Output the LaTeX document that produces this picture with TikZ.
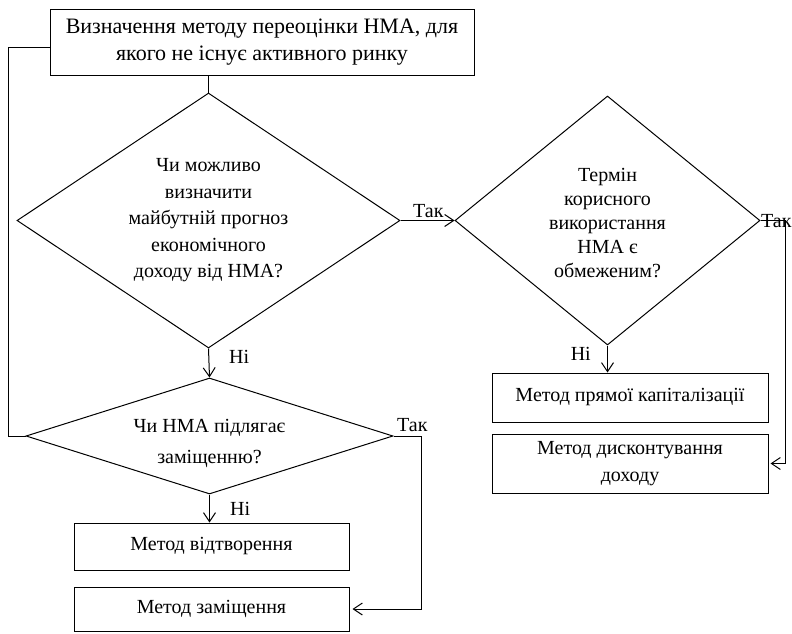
\documentclass[tikz,border=0pt]{standalone}
\usepackage{fontspec}
\setmainfont{Liberation Serif}
\usetikzlibrary{shapes.geometric,arrows.meta}
\begin{document}
\begin{tikzpicture}[x=1pt,y=-1pt,
  every node/.style={font=\fontsize{20}{26.5}\selectfont},
  box/.style={draw,line width=1pt,rectangle,inner sep=0pt,align=center},
  dia/.style={draw,line width=1pt,diamond,inner sep=0pt,align=center},
  conn/.style={line width=1pt},
  arr/.style={line width=1pt,-{Straight Barb[length=9pt,width=12pt]}},
  lbl/.style={inner sep=0pt}]
\useasboundingbox (0,0) rectangle (792,634);
\node[box,minimum width=424pt,minimum height=65pt,font=\fontsize{22}{27}\selectfont] (top) at (262,42.5)
  {Визначення методу переоцінки НМА, для\\якого не існує активного ринку};
\node[dia,shape aspect=1.5,minimum width=383pt,minimum height=255pt] (d1) at (208.5,220.5)
  {Чи можливо\\визначити\\майбутній прогноз\\економічного\\доходу від НМА?};
\node[dia,shape aspect=3.16,minimum width=367pt,minimum height=116pt] (d2) at (209.5,436)
  {\raisebox{-12pt}[0pt][0pt]{\begin{tabular}{@{}c@{}}Чи НМА підлягає\\[4pt]заміщенню?\end{tabular}}};
\node[dia,shape aspect=1.22,minimum width=305pt,minimum height=249pt,font=\fontsize{20}{24}\selectfont] (d3) at (607.5,220.5)
  {\raisebox{-9pt}[0pt][0pt]{\begin{tabular}{@{}c@{}}Термін\\корисного\\використання\\НМА є\\обмеженим?\end{tabular}}};
\node[box,minimum width=275pt,minimum height=47pt] (b1) at (211.5,546.5) {Метод відтворення};
\node[box,minimum width=275pt,minimum height=44pt] (b2) at (211.5,609) {Метод заміщення};
\node[box,minimum width=276pt,minimum height=49pt] (b3) at (630,397.5) {Метод прямої капіталізації};
\node[box,minimum width=276pt,minimum height=59pt] (b4) at (630,463.5) {Метод дисконтування\\доходу};
\coordinate (loopx) at (8,0);
\coordinate (r2) at (421,0);
\coordinate (r3) at (785,0);
% connectors
\draw[conn] (d1.north |- top.south) -- (d1.north);
\draw[arr] (d1.south) -- (d2.north);
\draw[arr] (d2.south) -- (d2.south |- b1.north);
\draw[arr] (d1.east) -- (d3.west);
\draw[arr] (d3.south) -- (d3.south |- b3.north);
\draw[arr,shorten >=2pt] (d3.east) -- (d3.east -| r3) |- (b4.east);
\draw[arr,shorten >=3pt] (d2.east) -- (d2.east -| r2) |- (b2.east);
\draw[conn] ([yshift=-5.5pt]top.west) -- ([yshift=-5.5pt]top.west -| loopx) |- (d2.west);
% labels
\node[lbl,anchor=base west] (l1) at (229,363) {Ні};
\node[lbl,anchor=base west] (l2) at (230,515) {Ні};
\node[lbl,anchor=base west] (l3) at (413,217) {Так};
\node[lbl,anchor=base east] (l4) at (591,360) {Ні};
\node[lbl,anchor=base west] (l5) at (761,227) {Так};
\node[lbl,anchor=base west] (l6) at (397,431) {Так};
\end{tikzpicture}
\end{document}
